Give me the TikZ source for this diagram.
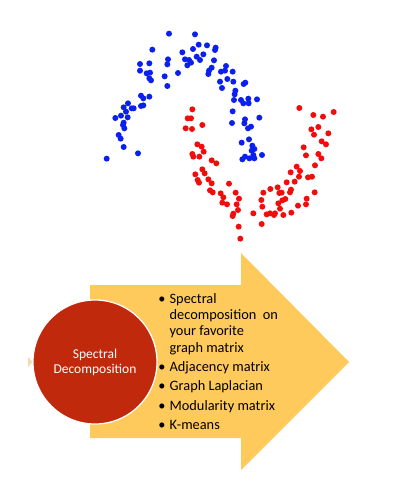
\documentclass[tikz,border=0pt]{standalone}
\usepackage{fontspec}
\setmainfont{Carlito}
\usepackage{tikz}
\definecolor{dotblue}{HTML}{0B1FEF}
\definecolor{dotred}{HTML}{F20D0D}
\definecolor{arrowgold}{HTML}{FFCA5C}
\definecolor{corered}{HTML}{C0290B}
\definecolor{tippeach}{HTML}{F3D9AC}
\newcommand{\blt}{\textbullet}

\begin{document}
\begin{tikzpicture}[x=0.025cm,y=-0.025cm,
  core/.style={circle,fill=corered,draw=white,line width=0.9pt,minimum size=3.1cm,
    inner sep=0pt,text=white,align=center,font=\fontsize{9.6}{10.7}\selectfont},
  items/.style={anchor=west,inner sep=0pt,font=\fontsize{10.2}{11.7}\selectfont},
  bluedot/.style={fill=dotblue},
  reddot/.style={fill=dotred}]
\useasboundingbox (0,0) rectangle (400,500);
\fill[arrowgold] (90,285) -- (241,285) -- (241,253) -- (349,362) -- (241,470)
  -- (241,438) -- (90,438) -- cycle;
\fill[tippeach] (28,357) -- (32.5,362) -- (28,367) -- cycle;
\node[core] (spec) at (95,362) {Spectral\\Decomposition};
\node[items] (list) at (158,363) {\begin{tabular}{@{}l@{\hspace{3pt}}l@{}}
  \blt & Spectral\\
       & decomposition\ \ on\\
       & your favorite\\
       & graph matrix\\[2pt]
  \blt & Adjacency matrix\\[2pt]
  \blt & Graph Laplacian\\[2pt]
  \blt & Modularity matrix\\[2pt]
  \blt & K-means
\end{tabular}};
\begin{scope}[shift={(90,0)},x=0.008333cm,y=-0.008333cm]
\foreach \x/\y in {237/101,315/103,187/149,326/134,351/136,377/143,375/150,309/147,
  277/157,340/163,320/170,285/178,297/180,330/180,303/188,292/196,372/181,150/192,
  178/190,234/178,232/193,150/212,170/220,180/218,178/235,183/241,224/229,232/258,
  264/219,365/203,357/212,355/222,408/198,405/212,393/215,428/215,390/245,412/237,
  430/245,461/252,466/248,396/264,436/272,434/283,453/300,460/310,475/296,476/310,
  501/298,432/300,428/334,426/369,465/358,508/353,463/370,474/385,483/380,455/428,
  477/418,487/437,493/447,485/452,490/465,516/465,457/478,465/470,478/475,493/475,
  153/287,160/295,178/290,153/318,160/316,114/310,101/322,125/325,131/325,108/335,
  93/347,76/354,113/352,101/368,103/385,99/375,86/405,92/416,101/441,144/460,50/476}
  \fill[bluedot] (\x,\y) circle[radius=9];
\foreach \x/\y in {307/328,628/324,670/345,699/350,731/336,293/355,303/355,287/385,
  306/387,337/375,664/388,685/381,672/404,715/400,695/424,708/433,641/442,322/433,
  335/440,341/455,307/462,328/470,310/470,365/481,379/490,685/462,648/466,694/475,
  675/496,620/500,630/513,627/530,602/517,614/545,590/547,563/562,603/569,600/577,
  575/578,568/579,586/597,577/601,337/508,344/520,316/523,355/538,323/540,365/550,
  327/548,417/551,360/571,368/577,392/580,400/592,437/578,447/596,397/608,411/613,
  440/613,541/567,520/578,514/600,517/620,570/626,555/640,530/643,490/640,444/630,
  430/641,428/648,604/638,624/617,648/613,650/596,674/577,654/532,666/530,565/610,
  515/672,446/680,451/716,540/640,552/645,580/645}
  \fill[reddot] (\x,\y) circle[radius=9];
\end{scope}
\end{tikzpicture}
\end{document}
